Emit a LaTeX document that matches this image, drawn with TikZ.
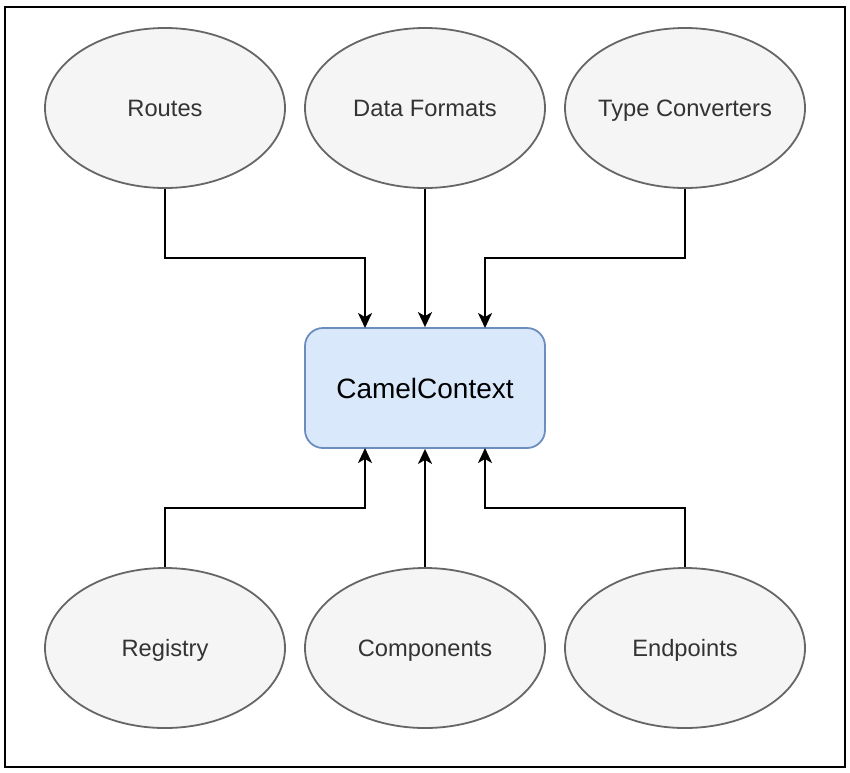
\documentclass[tikz,border=0pt]{standalone}
\usepackage{fontspec}
\setmainfont{Liberation Sans}
\usetikzlibrary{shapes.geometric,arrows.meta}
\definecolor{ellfill}{HTML}{F5F5F5}
\definecolor{elldraw}{HTML}{666666}
\definecolor{elltext}{HTML}{333333}
\definecolor{ccfill}{HTML}{DAE8FC}
\definecolor{ccdraw}{HTML}{6C8EBF}
\newcommand{\zerow}[1]{\makebox[0pt][c]{#1}}
\tikzset{
  part/.style={ellipse, draw=elldraw, fill=ellfill, line width=1.8pt, minimum width=240pt, minimum height=160pt, inner sep=0pt, text=elltext, font=\fontsize{23.7}{28}\selectfont, text height=17pt, text depth=0pt},
  ctx/.style={rectangle, rounded corners=18pt, draw=ccdraw, fill=ccfill, line width=1.8pt, minimum width=240pt, minimum height=120pt, inner sep=0pt, font=\fontsize{28}{33}\selectfont, text height=20pt, text depth=0pt},
  conn/.style={draw=black, line width=2pt, -{Stealth[length=15pt,width=14pt,inset=4pt]}},
  frame/.style={draw=black, line width=2.6pt, fill=white}
}
\begin{document}
\begin{tikzpicture}[x=1pt,y=-1pt]
\useasboundingbox (0,0) rectangle (850,772);
\fill[white] (0,0) rectangle (850,772);
\draw[frame] (5,7) rectangle (845,767);
\node[part] (routes) at (165,108) {\zerow{Routes}};
\node[part] (formats) at (425,108) {\zerow{Data Formats}};
\node[part] (types) at (685,108) {\zerow{Type Converters}};
\node[part] (registry) at (165,648) {\zerow{Registry}};
\node[part] (components) at (425,648) {\zerow{Components}};
\node[part] (endpoints) at (685,648) {\zerow{Endpoints}};
\node[ctx] (cc) at (425,388) {CamelContext};
\coordinate (ccnl) at (365,328);
\coordinate (ccnr) at (485,328);
\coordinate (ccsl) at (365,448);
\coordinate (ccsr) at (485,448);
\draw[conn] (routes.south) -- (165,258) -| (ccnl);
\draw[conn] (formats.south) -- (cc.north);
\draw[conn] (types.south) -- (685,258) -| (ccnr);
\draw[conn] (registry.north) -- (165,508) -| (ccsl);
\draw[conn] (components.north) -- (cc.south);
\draw[conn] (endpoints.north) -- (685,508) -| (ccsr);
\end{tikzpicture}
\end{document}
